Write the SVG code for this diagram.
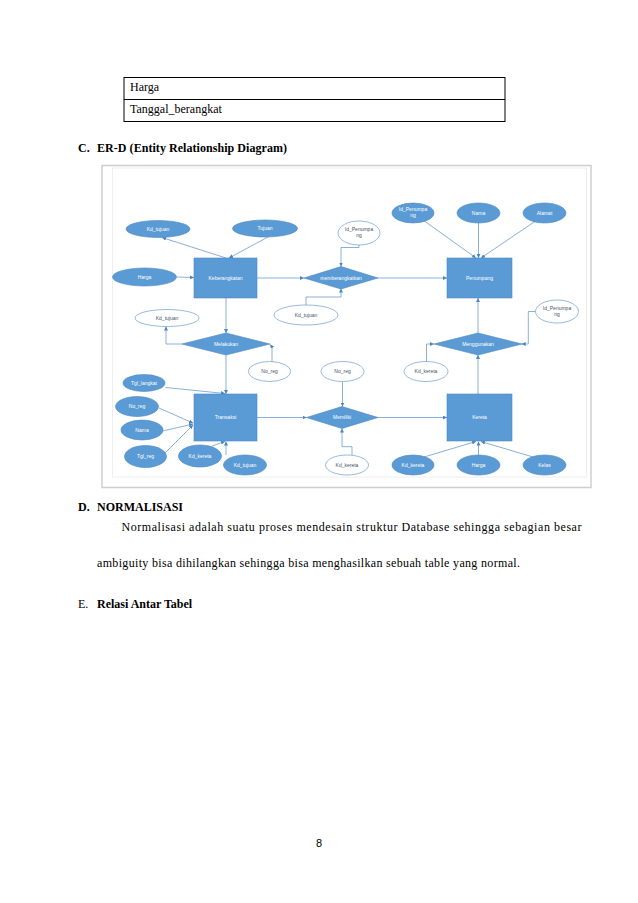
<svg xmlns="http://www.w3.org/2000/svg" width="638" height="903" viewBox="0 0 638 903">
<style>
.pg{font-family:"Liberation Serif","Times New Roman",serif;font-size:12px;fill:#000}
.b{font-weight:bold}
.ent{fill:#5b9bd5;stroke:#4a86c0;stroke-width:0.6}
.att{fill:#5b9bd5;stroke:#4a86c0;stroke-width:0.6}
.oatt{fill:#fff;stroke:#6d9cce;stroke-width:0.7}
.wt{font-family:"Liberation Sans",Arial,sans-serif;font-size:5px;fill:#fff;text-anchor:middle}
.dt{font-family:"Liberation Sans",Arial,sans-serif;font-size:5px;fill:#44546a;text-anchor:middle}
.ln{fill:none;stroke:#6d9cce;stroke-width:0.8;marker-end:url(#ah)}
</style>
<defs>
<marker id="ah" viewBox="0 0 6 6" refX="6" refY="3" markerWidth="4" markerHeight="4" markerUnits="userSpaceOnUse" orient="auto"><path d="M0,0 L6,3 L0,6z" fill="#4a86c0"/></marker>
</defs>
<rect width="638" height="903" fill="#fff"/>

<!-- table fragment -->
<g id="table">
<rect x="124" y="77.5" width="381" height="44" fill="none" stroke="#000" stroke-width="1"/>
<line x1="124" y1="99.5" x2="505" y2="99.5" stroke="#000" stroke-width="1"/>
<text class="pg" x="130" y="91">Harga</text>
<text class="pg" x="130" y="113">Tanggal_berangkat</text>
</g>

<text class="pg b" x="78" y="152">C.</text>
<text class="pg b" x="97" y="152" textLength="190">ER-D (Entity  Relationship Diagram)</text>

<!-- image frame -->
<rect x="102" y="165.5" width="489" height="322" fill="#fff" stroke="#cfcfcf" stroke-width="1.5"/>
<rect x="112.5" y="168" width="474" height="309" fill="#fff" stroke="#eeeeee" stroke-width="1"/>

<g id="connectors">
<path class="ln" d="M226,258 L162,237.5"/>
<path class="ln" d="M268,237 L229,258"/>
<path class="ln" d="M176.5,277 L194,277.5"/>
<path class="ln" d="M257,278 L304,278"/>
<path class="ln" d="M359,245 V247.5 H341 V266.5"/>
<path class="ln" d="M306,305 V297 H341 V288.5"/>
<path class="ln" d="M377.7,278 L447,278"/>
<path class="ln" d="M423,220 L476,258"/>
<path class="ln" d="M478.5,223 V258"/>
<path class="ln" d="M537,220 L481,258"/>
<path class="ln" d="M226,298 V333"/>
<path class="ln" d="M182,344 H166 V326.5"/>
<path class="ln" d="M272,362 V347 L270,344.5"/>
<path class="ln" d="M226,355 V394"/>
<path class="ln" d="M165.5,387.5 L225,393.5"/>
<path class="ln" d="M159,408 L193,423"/>
<path class="ln" d="M162.5,431 L193,424"/>
<path class="ln" d="M165,453 L193,425"/>
<path class="ln" d="M212,446 L225,441.5"/>
<path class="ln" d="M226,455 V441.5"/>
<path class="ln" d="M257,417.5 H306.5"/>
<path class="ln" d="M342.5,381.7 V406.5"/>
<path class="ln" d="M352,455 V446.7 H342 V428.5"/>
<path class="ln" d="M377.7,417.5 H447"/>
<path class="ln" d="M424,457 L476,441.5"/>
<path class="ln" d="M478.5,455 V441.5"/>
<path class="ln" d="M533,457 L481,441.5"/>
<path class="ln" d="M478,394 V355"/>
<path class="ln" d="M478,333 V298"/>
<path class="ln" d="M426.5,361.7 V344 H434"/>
<path class="ln" d="M535.7,311.5 H528.3 V344 H521.7"/>
</g>

<!-- entities -->
<g id="keberangkatan"><rect class="ent" x="194" y="258" width="63" height="40"/><text class="wt" x="225.5" y="279.5">Keberangkatan</text></g>
<g id="penumpang"><rect class="ent" x="447" y="258" width="65" height="40"/><text class="wt" x="479.5" y="279.5">Penumpang</text></g>
<g id="transaksi"><rect class="ent" x="194" y="394" width="63" height="47"/><text class="wt" x="225.5" y="419">Transaksi</text></g>
<g id="kereta"><rect class="ent" x="447" y="394" width="65" height="47"/><text class="wt" x="479.5" y="419">Kereta</text></g>

<!-- relationships -->
<g id="memberangkatkan"><polygon class="ent" points="304,278 341,266.5 378,278 341,289"/><text class="wt" x="341" y="279.5">memberangkatkan</text></g>
<g id="melakukan"><polygon class="ent" points="182,344 226,333 270,344 226,355"/><text class="wt" x="226" y="345.5">Melakukan</text></g>
<g id="menggunakan"><polygon class="ent" points="434,344 478,333 522,344 478,355"/><text class="wt" x="478" y="345.5">Menggunakan</text></g>
<g id="memiliki"><polygon class="ent" points="306.5,417.5 342,406.5 378,417.5 342,428.5"/><text class="wt" x="342" y="419">Memiliki</text></g>

<!-- filled attributes -->
<g id="a-kd-tujuan-1"><ellipse class="att" cx="158" cy="229" rx="32" ry="8.5"/><text class="wt" x="158" y="230.7">Kd_tujuan</text></g>
<g id="a-tujuan"><ellipse class="att" cx="265" cy="228.5" rx="32.5" ry="8.5"/><text class="wt" x="265" y="230.2">Tujuan</text></g>
<g id="a-harga-1"><ellipse class="att" cx="144.5" cy="277" rx="32" ry="9"/><text class="wt" x="144.5" y="278.7">Harga</text></g>
<g id="a-id-penumpang-1"><ellipse class="att" cx="413" cy="213" rx="21" ry="10"/><text class="wt" x="413" y="211">Id_Penumpa</text><text class="wt" x="413" y="217">ng</text></g>
<g id="a-nama-1"><ellipse class="att" cx="478.5" cy="213" rx="21.5" ry="10"/><text class="wt" x="478.5" y="214.7">Nama</text></g>
<g id="a-alamat"><ellipse class="att" cx="544.5" cy="213" rx="21.5" ry="10"/><text class="wt" x="544.5" y="214.7">Alamat</text></g>
<g id="a-tgl-langkat"><ellipse class="att" cx="144" cy="383" rx="21" ry="8.5"/><text class="wt" x="144" y="384.7">Tgl_langkat</text></g>
<g id="a-no-reg-1"><ellipse class="att" cx="137" cy="406.5" rx="21.5" ry="10"/><text class="wt" x="137" y="408.2">No_reg</text></g>
<g id="a-nama-2"><ellipse class="att" cx="142" cy="430" rx="21" ry="10"/><text class="wt" x="142" y="431.7">Nama</text></g>
<g id="a-tgl-reg"><ellipse class="att" cx="145.5" cy="456.5" rx="21" ry="11"/><text class="wt" x="145.5" y="458.2">Tgl_reg</text></g>
<g id="a-kd-kereta-1"><ellipse class="att" cx="200" cy="456" rx="21.5" ry="11"/><text class="wt" x="200" y="457.7">Kd_kereta</text></g>
<g id="a-kd-tujuan-2"><ellipse class="att" cx="245" cy="465" rx="21.5" ry="10"/><text class="wt" x="245" y="466.7">Kd_tujuan</text></g>
<g id="a-kd-kereta-2"><ellipse class="att" cx="413" cy="465" rx="21" ry="10"/><text class="wt" x="413" y="466.7">Kd_kereta</text></g>
<g id="a-harga-2"><ellipse class="att" cx="478.5" cy="465" rx="21.5" ry="10"/><text class="wt" x="478.5" y="466.7">Harga</text></g>
<g id="a-kelas"><ellipse class="att" cx="544.5" cy="465" rx="21.5" ry="10"/><text class="wt" x="544.5" y="466.7">Kelas</text></g>

<!-- outline attributes -->
<g id="o-id-penumpang-1"><ellipse class="oatt" cx="359" cy="233" rx="21" ry="12"/><text class="dt" x="359" y="231">Id_Penumpa</text><text class="dt" x="359" y="237">ng</text></g>
<g id="o-kd-tujuan-1"><ellipse class="oatt" cx="306" cy="315" rx="32" ry="10"/><text class="dt" x="306" y="316.7">Kd_tujuan</text></g>
<g id="o-kd-tujuan-2"><ellipse class="oatt" cx="167" cy="318" rx="32" ry="8.5"/><text class="dt" x="167" y="319.7">Kd_tujuan</text></g>
<g id="o-no-reg-1"><ellipse class="oatt" cx="269.5" cy="371.5" rx="21" ry="10"/><text class="dt" x="269.5" y="373.2">No_reg</text></g>
<g id="o-no-reg-2"><ellipse class="oatt" cx="342.5" cy="371.5" rx="21.5" ry="10"/><text class="dt" x="342.5" y="373.2">No_reg</text></g>
<g id="o-kd-kereta-1"><ellipse class="oatt" cx="347" cy="465" rx="21.5" ry="10"/><text class="dt" x="347" y="466.7">Kd_kereta</text></g>
<g id="o-kd-kereta-2"><ellipse class="oatt" cx="426" cy="371.5" rx="22" ry="10"/><text class="dt" x="426" y="373.2">Kd_kereta</text></g>
<g id="o-id-penumpang-2"><ellipse class="oatt" cx="557" cy="311.5" rx="21.5" ry="11.5"/><text class="dt" x="557" y="309.5">Id_Penumpa</text><text class="dt" x="557" y="315.5">ng</text></g>

<!-- body text -->
<text class="pg b" x="78" y="511">D.</text>
<text class="pg b" x="97" y="511">NORMALISASI</text>
<text class="pg" x="121.5" y="531" textLength="460">Normalisasi  adalah suatu proses mendesain  struktur  Database sehingga  sebagian besar</text>
<text class="pg" x="97" y="567" textLength="423">ambiguity  bisa dihilangkan  sehingga  bisa menghasilkan  sebuah table yang  normal.</text>
<text class="pg" x="78" y="608">E.</text>
<text class="pg b" x="97" y="608">Relasi Antar Tabel</text>
<text x="319" y="847" font-family="Liberation Sans,Arial,sans-serif" font-size="11" text-anchor="middle" fill="#000">8</text>
</svg>
